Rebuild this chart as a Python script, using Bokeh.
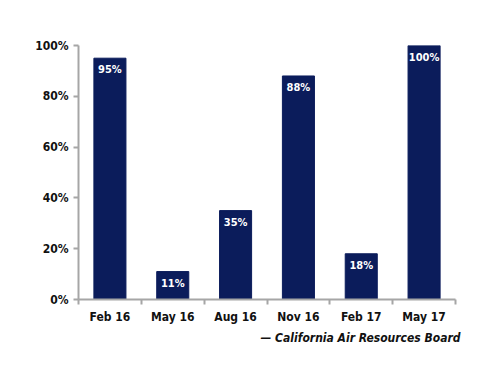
from bokeh.plotting import figure
from bokeh.models import ColumnDataSource, Range1d, NumeralTickFormatter, FixedTicker, Title
from bokeh.core.properties import value
from bokeh.embed import file_html
from bokeh.resources import INLINE

categories = ["Feb 16", "May 16", "Aug 16", "Nov 16", "Feb 17", "May 17"]
values = [0.95, 0.11, 0.35, 0.88, 0.18, 1.00]
labels = ["95%", "11%", "35%", "88%", "18%", "100%"]
y_ticks = [0, 0.2, 0.4, 0.6, 0.8, 1.0]
source_note = "\u2014 California Air Resources Board"

FONT = "DejaVu Sans Condensed"
BAR = "#0b1c5b"
AXIS = "#a6a6a6"

xpos = [i + 0.5 for i in range(len(categories))]
src = ColumnDataSource(dict(x=xpos, val=values, lab=labels))

p = figure(width=490, height=376, output_backend="svg",
           toolbar_location=None, min_border_left=78, min_border_top=45,
           min_border_right=35, min_border_bottom=77)
p.x_range = Range1d(0, len(categories))
p.y_range = Range1d(0, 1.0)

p.vbar(x="x", top="val", width=0.51, source=src, color=BAR)
p.text(x="x", y="val", text="lab", source=src, text_color="white",
       text_align="center", text_baseline="top", y_offset=5,
       text_font=value(FONT), text_font_style="bold", text_font_size="11px")

p.grid.visible = False
p.outline_line_color = None

p.yaxis.ticker = FixedTicker(ticks=y_ticks)
p.yaxis.formatter = NumeralTickFormatter(format="0%")
p.yaxis.minor_tick_line_color = None
p.yaxis.major_tick_out = 5
p.yaxis.major_tick_in = 0

p.xaxis.ticker = FixedTicker(ticks=xpos, minor_ticks=list(range(len(categories) + 1)))
p.xaxis.major_label_overrides = {x: c for x, c in zip(xpos, categories)}
p.xaxis.major_tick_out = 0
p.xaxis.major_tick_in = 0
p.xaxis.minor_tick_out = 5
p.xaxis.minor_tick_in = 0

for ax in (p.xaxis[0], p.yaxis[0]):
    ax.axis_line_color = AXIS
    ax.axis_line_width = 2
    ax.major_tick_line_color = AXIS
    ax.major_tick_line_width = 2
    ax.minor_tick_line_color = AXIS
    ax.minor_tick_line_width = 2
    ax.major_label_text_font = FONT
    ax.major_label_text_font_style = "bold"
    ax.major_label_text_font_size = "12px"
    ax.major_label_text_color = "#111111"

p.yaxis.minor_tick_line_color = None
p.xaxis.major_label_standoff = 5
p.yaxis.major_label_standoff = 5

p.add_layout(Title(text=source_note, align="right", text_font=FONT,
                   text_font_style="bold italic", text_font_size="12px",
                   text_color="#111111", standoff=4, offset=-5), "below")

open("out.html", "w").write(file_html(p, INLINE))
